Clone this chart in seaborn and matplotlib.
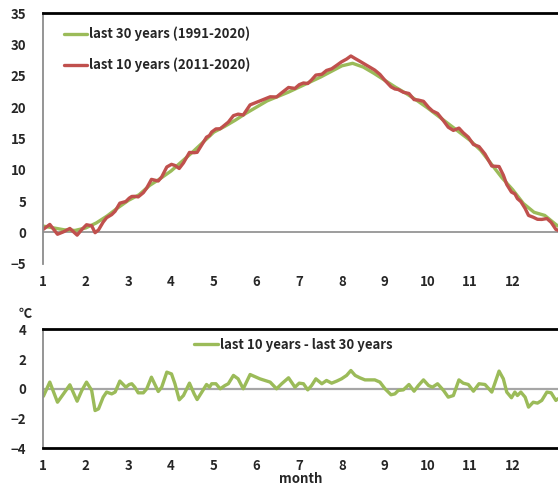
import numpy as np
import pandas as pd
import seaborn as sns
import matplotlib.pyplot as plt

# month position (1 = 1 Jan, 13 = 31 Dec) and daily mean temperature (°C)
month_30 = [1.00, 1.25, 1.50, 1.75, 2.00, 2.25, 2.50, 2.75, 3.00, 3.25, 3.50, 3.75,
            4.00, 4.25, 4.50, 4.75, 5.00, 5.25, 5.50, 5.75, 6.00, 6.25, 6.50, 6.75,
            7.00, 7.25, 7.50, 7.75, 8.00, 8.25, 8.50, 8.75, 9.00, 9.25, 9.50, 9.75,
            10.00, 10.25, 10.50, 10.75, 11.00, 11.25, 11.50, 11.75, 12.00, 12.25,
            12.50, 12.75, 13.00, 13.06]
temp_30 = [1.0, 0.7, 0.4, 0.3, 0.7, 1.5, 2.6, 3.9, 5.1, 6.0, 7.5, 8.6,
           9.8, 11.3, 12.8, 14.4, 16.0, 16.9, 17.9, 19.0, 20.0, 21.0, 21.7, 22.4,
           23.2, 24.0, 24.8, 25.7, 26.6, 27.0, 26.4, 25.4, 24.3, 23.2, 22.2, 21.1,
           19.9, 18.6, 17.3, 16.0, 14.7, 13.1, 10.9, 8.7, 6.8, 4.6,
           3.2, 2.7, 1.3, 1.0]

month_10 = [1.01, 1.16, 1.34, 1.48, 1.63, 1.80, 1.91, 2.02, 2.14, 2.22, 2.30, 2.41,
            2.49, 2.61, 2.69, 2.80, 2.94, 3.02, 3.08, 3.15, 3.23, 3.35, 3.43, 3.54,
            3.70, 3.78, 3.90, 4.01, 4.09, 4.19, 4.29, 4.43, 4.54, 4.61, 4.72, 4.83,
            4.90, 4.95, 5.05, 5.15, 5.26, 5.34, 5.46, 5.57, 5.69, 5.85, 6.08, 6.32,
            6.47, 6.59, 6.75, 6.90, 7.00, 7.10, 7.20, 7.29, 7.39, 7.53, 7.64, 7.76,
            7.88, 7.99, 8.11, 8.21, 8.31, 8.42, 8.54, 8.66, 8.77, 8.89, 9.01, 9.15,
            9.24, 9.32, 9.44, 9.57, 9.69, 9.79, 9.91, 10.03, 10.12, 10.24, 10.38,
            10.49, 10.61, 10.74, 10.84, 10.96, 11.08, 11.21, 11.35, 11.51, 11.68,
            11.78, 11.86, 11.97, 12.05, 12.11, 12.19, 12.29, 12.37, 12.48, 12.58,
            12.68, 12.80, 12.90, 13.01, 13.06]
temp_10 = [0.49, 1.26, -0.31, 0.08, 0.62, -0.45, 0.45, 1.21, 1.05, -0.06, 0.37, 1.64,
           2.34, 2.83, 3.37, 4.66, 4.92, 5.46, 5.73, 5.75, 5.66, 6.33, 7.08, 8.46,
           8.20, 8.85, 10.44, 10.86, 10.68, 10.20, 11.09, 12.76, 12.72, 12.78, 13.99, 15.20,
           15.47, 16.02, 16.52, 16.54, 17.16, 17.60, 18.64, 18.88, 18.74, 20.36, 20.99, 21.65,
           21.62, 22.29, 23.14, 22.99, 23.58, 23.86, 23.77, 24.35, 25.12, 25.25, 25.86, 26.12,
           26.69, 27.23, 27.68, 28.17, 27.76, 27.33, 26.84, 26.36, 25.91, 25.23, 24.26, 23.24,
           22.90, 22.81, 22.37, 22.18, 21.20, 21.13, 20.93, 19.96, 19.39, 18.99, 17.81,
           16.79, 16.28, 16.65, 15.91, 15.20, 14.03, 13.70, 12.51, 10.59, 10.51,
           9.14, 7.64, 6.43, 6.14, 5.38, 4.91, 3.82, 2.70, 2.41, 2.08,
           2.06, 2.20, 1.59, 0.47, 0.33]
# last 10 years minus last 30 years
temp_diff = [-0.50, 0.45, -0.90, -0.34, 0.27, -0.83, -0.11, 0.45, -0.10, -1.46, -1.35, -0.56,
             -0.22, -0.34, -0.22, 0.52, 0.11, 0.29, 0.34, 0.11, -0.27, -0.27, 0.00, 0.78,
             -0.18, 0.11, 1.12, 1.00, 0.34, -0.74, -0.45, 0.38, -0.34, -0.72, -0.22, 0.29,
             0.11, 0.34, 0.34, 0.00, 0.22, 0.34, 0.90, 0.67, 0.00, 0.96, 0.67, 0.45,
             0.00, 0.34, 0.74, 0.11, 0.38, 0.34, -0.07, 0.22, 0.67, 0.34, 0.56, 0.38,
             0.52, 0.67, 0.90, 1.23, 0.90, 0.74, 0.60, 0.60, 0.60, 0.45, 0.00, -0.40,
             -0.34, -0.11, -0.07, 0.29, -0.16, 0.22, 0.60, 0.22, 0.11, 0.34, -0.11,
             -0.56, -0.45, 0.60, 0.38, 0.29, -0.16, 0.34, 0.29, -0.22, 1.19,
             0.67, -0.22, -0.60, -0.22, -0.45, -0.22, -0.56, -1.23, -0.90, -0.96,
             -0.78, -0.22, -0.27, -0.78, -0.67]

month_ticks = list(range(1, 13))
label_30 = "last 30 years (1991-2020)"
label_10 = "last 10 years (2011-2020)"
label_diff = "last 10 years - last 30 years"

GREEN = "#9bbb59"
RED = "#c0504d"

sns.set_style("white")
plt.rcParams["font.family"] = ["Noto Sans CJK KR", "DejaVu Sans"]
plt.rcParams["font.weight"] = "bold"
plt.rcParams["font.size"] = 9.5

fig = plt.figure(figsize=(5.58, 4.90), dpi=100)
ax1 = fig.add_axes([0.077, 0.462, 0.923, 0.511])
ax2 = fig.add_axes([0.077, 0.085, 0.923, 0.243])

# top panel: daily temperature
ax1.axhline(0, color="#8c8c8c", lw=1.2, zorder=1)
sns.lineplot(x=month_30, y=temp_30, ax=ax1, color=GREEN, lw=2.4, label=label_30)
sns.lineplot(x=month_10, y=temp_10, ax=ax1, color=RED, lw=2.4, label=label_10)
ax1.set_ylim(-5, 35)
ax1.set_yticks(range(-5, 36, 5))

# bottom panel: difference
ax2.axhline(0, color="#a6a6a6", lw=1.6, zorder=1)
sns.lineplot(x=month_10, y=temp_diff, ax=ax2, color=GREEN, lw=2.4, label=label_diff)
ax2.set_ylim(-4, 4)
ax2.set_yticks(range(-4, 5, 2))
ax2.set_xlabel("month", fontsize=9.5, fontweight="bold", labelpad=-1)

for ax in (ax1, ax2):
    ax.set_xlim(1, 13.06)
    ax.set_xticks(month_ticks)
    ax.set_xticklabels([str(m) for m in month_ticks])
    ax.tick_params(axis="y", length=4, width=1, color="#8c8c8c", pad=8, labelsize=9.5)
    ax.tick_params(axis="x", length=0, pad=8, labelsize=9.5)
    ax.spines["top"].set_color("black")
    ax.spines["top"].set_linewidth(2)
    ax.spines["left"].set_color("#8c8c8c")
    ax.spines["left"].set_linewidth(1.3)
    ax.spines["right"].set_visible(False)
    ax.grid(False)

ax1.spines["bottom"].set_visible(False)
ax2.spines["bottom"].set_color("black")
ax2.spines["bottom"].set_linewidth(2)

ax1.legend(loc="upper left", bbox_to_anchor=(0.03, 0.968), frameon=False,
           handlelength=1.8, handletextpad=0.15, labelspacing=1.25,
           borderaxespad=0, prop={"size": 9.5, "weight": "bold"})
ax2.legend(loc="upper center", bbox_to_anchor=(0.486, 0.975), frameon=False,
           handlelength=1.8, handletextpad=0.15,
           borderaxespad=0, prop={"size": 9.5, "weight": "bold"})

fig.text(0.045, 0.36, "℃", fontsize=9.5, fontweight="bold", ha="center", va="center")

fig.savefig("out.png", dpi=100)
